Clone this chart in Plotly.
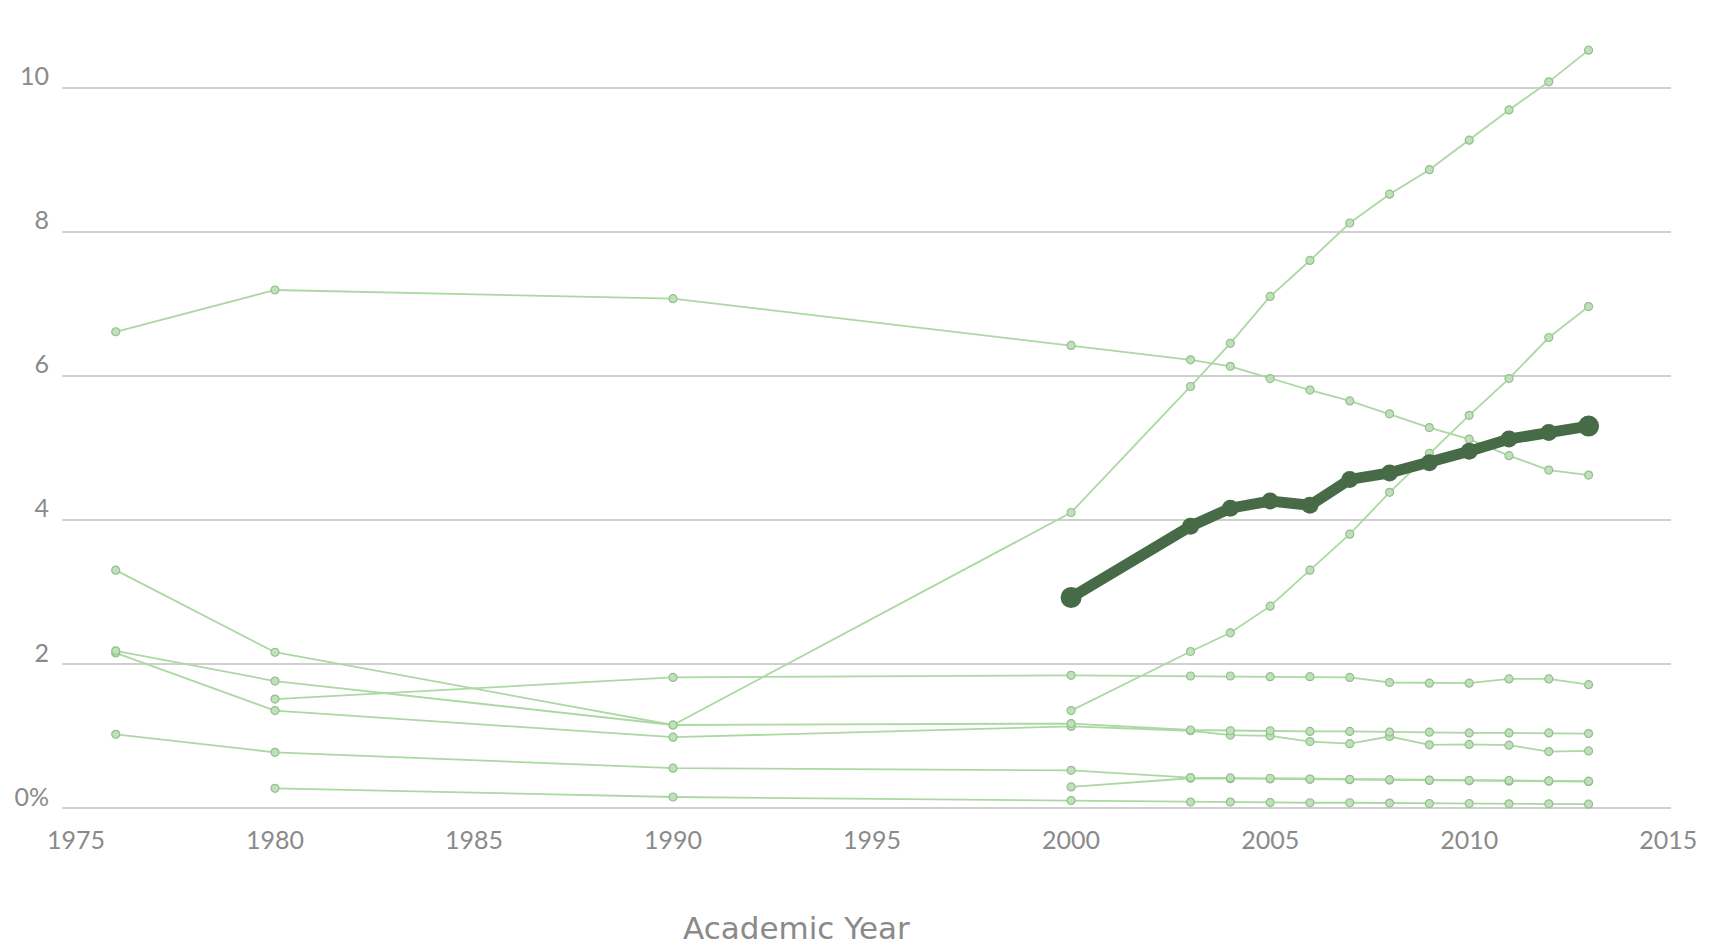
import plotly.graph_objects as go

# ---- data ----
years = [1976, 1980, 1990, 2000, 2003, 2004, 2005, 2006, 2007, 2008, 2009, 2010, 2011, 2012, 2013]

series_a = [3.30, 2.16, 1.15, 4.10, 5.85, 6.45, 7.10, 7.60, 8.12, 8.52, 8.86, 9.27, 9.69, 10.08, 10.52]
series_b = [6.61, 7.19, 7.07, 6.42, 6.22, 6.13, 5.96, 5.80, 5.65, 5.47, 5.28, 5.12, 4.89, 4.69, 4.62]
series_c = [None, None, None, 1.35, 2.17, 2.43, 2.80, 3.30, 3.80, 4.38, 4.92, 5.45, 5.96, 6.53, 6.96]
series_d = [None, 1.51, 1.81, 1.84, 1.83, 1.83, 1.82, 1.82, 1.81, 1.74, 1.73, 1.73, 1.79, 1.79, 1.71]
series_e = [2.18, 1.76, 1.15, 1.17, 1.08, 1.07, 1.07, 1.06, 1.06, 1.05, 1.05, 1.04, 1.04, 1.04, 1.03]
series_f = [2.15, 1.35, 0.98, 1.13, 1.07, 1.01, 1.00, 0.92, 0.89, 0.99, 0.875, 0.88, 0.87, 0.78, 0.79]
series_g = [1.02, 0.77, 0.55, 0.52, 0.42, 0.415, 0.41, 0.40, 0.395, 0.39, 0.385, 0.38, 0.38, 0.375, 0.37]
series_h = [None, None, None, 0.29, 0.41, 0.405, 0.40, 0.395, 0.39, 0.385, 0.38, 0.375, 0.37, 0.37, 0.365]
series_i = [None, 0.27, 0.15, 0.10, 0.08, 0.08, 0.075, 0.07, 0.07, 0.065, 0.06, 0.06, 0.055, 0.055, 0.05]

highlight = [None, None, None, 2.92, 3.91, 4.16, 4.26, 4.20, 4.56, 4.65, 4.79, 4.95, 5.12, 5.21, 5.30]

light_series = [series_i, series_h, series_g, series_f, series_e, series_d, series_c, series_b, series_a]

x_ticks = [1975, 1980, 1985, 1990, 1995, 2000, 2005, 2010, 2015]
y_ticks = [0, 2, 4, 6, 8, 10]
y_tick_text = ["0%", "2", "4", "6", "8", "10"]
x_title = "Academic Year"

# ---- figure ----
fig = go.Figure()

for s in light_series:
    fig.add_trace(go.Scatter(
        x=years, y=s, mode="lines+markers",
        line=dict(color="#acd8a4", width=1.8),
        marker=dict(size=8, color="#bfe0ba", opacity=1,
                    line=dict(color="#93c08c", width=1.2)),
        connectgaps=False, showlegend=False, cliponaxis=False,
        hoverinfo="x+y",
    ))

DARK = "#476b47"
fig.add_trace(go.Scatter(
    x=years, y=highlight, mode="lines",
    line=dict(color=DARK, width=11),
    showlegend=False, cliponaxis=False, hoverinfo="skip",
))
fig.add_trace(go.Scatter(
    x=years, y=highlight, mode="markers",
    marker=dict(size=17, color=DARK, opacity=1, line=dict(width=0)),
    showlegend=False, cliponaxis=False, hoverinfo="x+y",
))
# slightly larger end points of the highlighted series
ends_x = [y for y, v in zip(years, highlight) if v is not None]
ends_y = [v for v in highlight if v is not None]
fig.add_trace(go.Scatter(
    x=[ends_x[0], ends_x[-1]], y=[ends_y[0], ends_y[-1]], mode="markers",
    marker=dict(size=21, color=DARK, opacity=1, line=dict(width=0)),
    showlegend=False, cliponaxis=False, hoverinfo="x+y",
))

tick_font = dict(family="Lato, 'Open Sans', sans-serif", size=25, color="#8a8a8a")

fig.update_layout(
    width=1709, height=949,
    margin=dict(l=62, r=30, t=30, b=134),
    paper_bgcolor="white", plot_bgcolor="white",
    showlegend=False,
    xaxis=dict(
        range=[1974.65, 2015.07],
        tickvals=x_ticks,
        showgrid=False, zeroline=False, showline=False,
        ticks="", tickfont=tick_font, ticklabelstandoff=8,
    ),
    yaxis=dict(
        range=[-0.1, 10.8],
        tickvals=y_ticks, ticktext=y_tick_text,
        showgrid=True, gridcolor="#cfcfcf", gridwidth=1.6,
        zeroline=False, showline=False,
        ticks="", tickfont=tick_font,
        ticklabelstandoff=12, ticklabelshift=-11,
    ),
    annotations=[dict(
        text=x_title, xref="paper", yref="paper",
        x=0.4564, y=-0.1439, xanchor="center", yanchor="middle",
        showarrow=False,
        font=dict(family="'DejaVu Sans', sans-serif", size=31, color="#8a8a8a"),
    )],
)

fig.write_html(
    "out.html",
    config={"displayModeBar": False},
    post_script="document.body.style.margin='0';document.body.style.overflow='hidden';",
)
